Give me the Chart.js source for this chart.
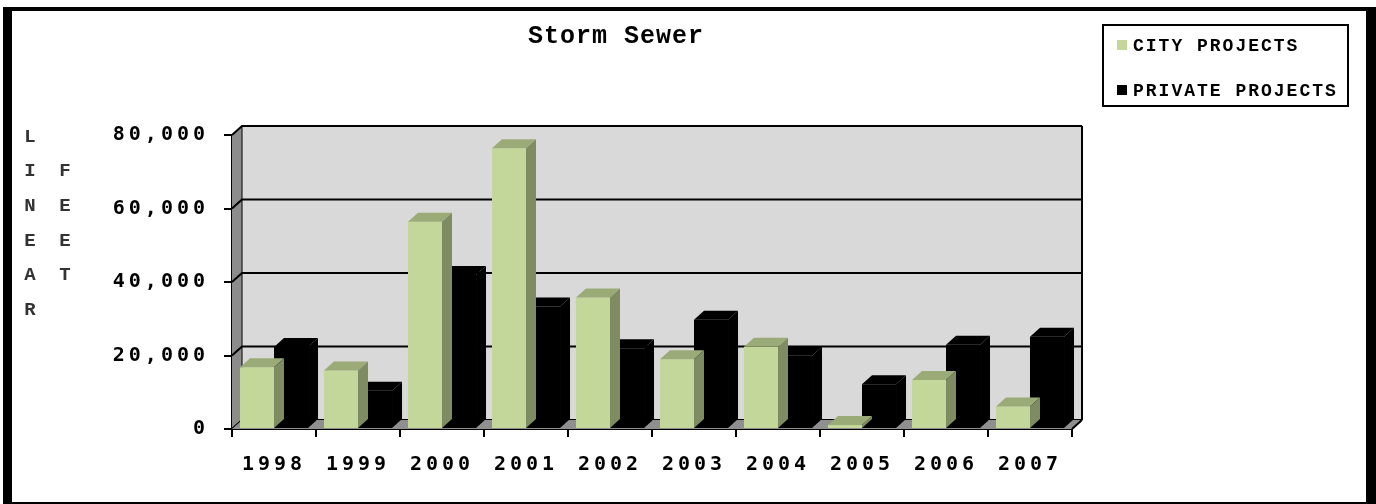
<!DOCTYPE html>
<html>
<head>
<meta charset="utf-8">
<title>Storm Sewer</title>
<style>
  html, body { margin: 0; padding: 0; background: #fff; }
  #wrap { position: relative; width: 1376px; height: 504px; }
  #frame {
    position: absolute; left: 3px; top: 7px; width: 1354px; height: 491px;
    border-style: solid; border-color: #000; border-width: 4px 10px 2px 9px;
    pointer-events: none;
  }
</style>
<script src="https://cdn.jsdelivr.net/npm/chart.js@4.4.0/dist/chart.umd.min.js"></script>
</head>
<body>
<div id="wrap">
  <canvas id="sewerChart" width="1376" height="504"></canvas>
  <div id="frame"></div>
</div>
<script>
// dados do gráfico
const titulo = 'Storm Sewer';
const anos = ['1998', '1999', '2000', '2001', '2002', '2003', '2004', '2005', '2006', '2007'];
const cityProjects = [16800, 15900, 56400, 76400, 35800, 19000, 22400, 1100, 13300, 6100];
const privateProjects = [22300, 10400, 41900, 33300, 22000, 29700, 19900, 12200, 22900, 25100];
const yTicks = [0, 20000, 40000, 60000, 80000];
const eixoLinear = ['L', 'I', 'N', 'E', 'A', 'R'];
const eixoFeet = ['F', 'E', 'E', 'T'];

const DX = 10, DY = 9;

function poly(ctx, pts) {
    ctx.beginPath();
    ctx.moveTo(pts[0][0], pts[0][1]);
    for (let i = 1; i < pts.length; i++) ctx.lineTo(pts[i][0], pts[i][1]);
    ctx.closePath();
}

// paredes 3D (fundo, lateral e piso)
const parede3d = {
    id: 'parede3d',
    beforeDatasetsDraw(chart) {
        const ctx = chart.ctx;
        const xs = chart.scales.x, ys = chart.scales.y;
        const l = xs.left, r = xs.right, t = ys.top, b = ys.bottom;
        ctx.save();
        ctx.fillStyle = '#d9d9d9';
        ctx.fillRect(l + DX, t - DY, r - l, b - t);
        ctx.fillStyle = '#8c8c8c';
        poly(ctx, [[l, t], [l + DX, t - DY], [l + DX, b - DY], [l, b]]);
        ctx.fill();
        ctx.strokeStyle = '#000';
        ctx.lineWidth = 1;
        ctx.beginPath();
        ctx.moveTo(l + DX, t - DY); ctx.lineTo(l + DX, b - DY);
        ctx.stroke();
        ctx.lineWidth = 2;
        yTicks.forEach(v => {
            const py = ys.getPixelForValue(v);
            ctx.beginPath();
            ctx.moveTo(l, py);
            ctx.lineTo(l + DX, py - DY);
            ctx.lineTo(r + DX, py - DY);
            ctx.stroke();
        });
        ctx.beginPath();
        ctx.moveTo(r + DX, t - DY); ctx.lineTo(r + DX, b - DY);
        ctx.stroke();
        // piso
        ctx.fillStyle = '#8f8f8f';
        poly(ctx, [[l, b], [l + DX, b - DY], [r + DX, b - DY], [r, b]]);
        ctx.fill();
        ctx.beginPath();
        ctx.moveTo(r + DX, b - DY); ctx.lineTo(r, b);
        ctx.stroke();
        ctx.restore();
    }
};

// topo e lateral das barras
const barras3d = {
    id: 'barras3d',
    afterDatasetDraw(chart, args) {
        const ds = chart.data.datasets[args.index];
        const ctx = chart.ctx;
        ctx.save();
        args.meta.data.forEach(bar => {
            const p = bar.getProps(['x', 'y', 'base', 'width'], true);
            const l = p.x - p.width / 2, r = p.x + p.width / 2;
            ctx.fillStyle = ds.corTopo;
            poly(ctx, [[l, p.y], [l + DX, p.y - DY], [r + DX, p.y - DY], [r, p.y]]);
            ctx.fill();
            ctx.fillStyle = ds.corLado;
            poly(ctx, [[r, p.y], [r + DX, p.y - DY], [r + DX, p.base - DY], [r, p.base]]);
            ctx.fill();
        });
        ctx.restore();
    }
};

// espaçamento das letras dos eixos
const espacamento = {
    id: 'espacamento',
    beforeDraw(chart) { chart.ctx.letterSpacing = '4px'; },
    afterDraw(chart) { chart.ctx.letterSpacing = '0px'; }
};

// título, legenda e texto do eixo Y
const textos = {
    id: 'textos',
    afterDraw(chart) {
        const ctx = chart.ctx;
        ctx.save();
        ctx.fillStyle = '#000';
        ctx.textBaseline = 'middle';
        ctx.textAlign = 'center';
        ctx.letterSpacing = '1px';
        ctx.font = 'bold 25px "Liberation Mono"';
        ctx.fillText(titulo, 616, 37);

        // eixo Y: LINEAR FEET
        ctx.letterSpacing = '0px';
        ctx.font = 'bold 19px "Liberation Mono"';
        ctx.fillStyle = '#333';
        eixoLinear.forEach((c, i) => ctx.fillText(c, 30, 137 + i * 34.6));
        eixoFeet.forEach((c, i) => ctx.fillText(c, 65, 171.6 + i * 34.6));

        // legenda
        ctx.font = 'bold 18px "Liberation Mono"';
        ctx.strokeStyle = '#000';
        ctx.lineWidth = 2;
        ctx.strokeRect(1103, 25, 245, 81);
        ctx.textAlign = 'left';
        ctx.letterSpacing = '2px';
        chart.data.datasets.forEach((ds, i) => {
            const cy = 45 + i * 45;
            ctx.fillStyle = ds.backgroundColor;
            ctx.fillRect(1117, cy - 5, 10, 10);
            ctx.fillStyle = '#000';
            ctx.fillText(ds.label, 1133, cy + 1);
        });
        ctx.restore();
    }
};

const ctx = document.getElementById('sewerChart').getContext('2d');
new Chart(ctx, {
    type: 'bar',
    data: {
        labels: anos,
        datasets: [{
            label: 'CITY PROJECTS',
            data: cityProjects,
            backgroundColor: '#c4d79b',
            corTopo: '#9bab78',
            corLado: '#7f8c62'
        }, {
            label: 'PRIVATE PROJECTS',
            data: privateProjects,
            backgroundColor: '#000000',
            corTopo: '#000000',
            corLado: '#000000'
        }]
    },
    options: {
        responsive: false,
        animation: false,
        categoryPercentage: 0.81,
        barPercentage: 1,
        layout: { padding: { left: 0, right: 304, top: 135, bottom: 0 } },
        plugins: {
            legend: { display: false },
            title: { display: false },
            tooltip: { enabled: false }
        },
        scales: {
            x: {
                afterFit: s => { s.height = 75; },
                grid: { offset: true, drawOnChartArea: false, drawTicks: true, tickLength: 8, color: '#000', lineWidth: 2 },
                border: { display: true, color: '#000', width: 2 },
                ticks: {
                    color: '#000',
                    padding: 16,
                    font: { family: '"DejaVu Sans Mono"', size: 20, weight: 'bold' }
                }
            },
            y: {
                min: 0,
                max: 80000,
                afterFit: s => { s.width = 232; },
                afterBuildTicks: s => { s.ticks = yTicks.map(v => ({ value: v })); },
                grid: { drawOnChartArea: false, drawTicks: true, tickLength: 8, color: '#000', lineWidth: 2 },
                border: { display: true, color: '#000', width: 2 },
                ticks: {
                    color: '#000',
                    padding: 15,
                    font: { family: '"DejaVu Sans Mono"', size: 20, weight: 'bold' },
                    callback: v => v.toLocaleString('en-US')
                }
            }
        }
    },
    plugins: [espacamento, parede3d, barras3d, textos]
});
</script>
</body>
</html>
